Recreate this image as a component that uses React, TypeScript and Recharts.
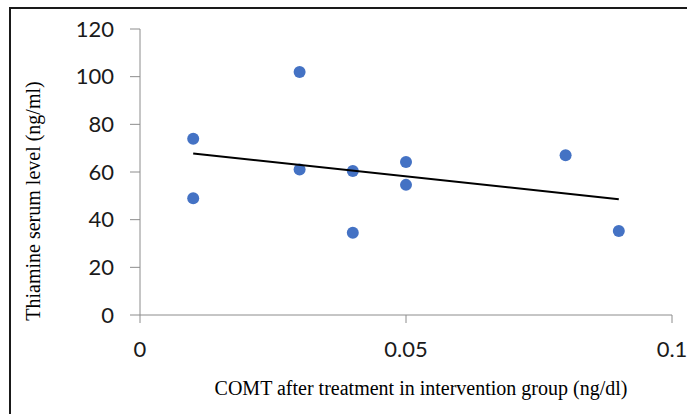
import React from 'react';
import { ScatterChart, Scatter, XAxis, YAxis } from 'recharts';

// 측정값 (COMT, Thiamine)
const comtValues = [0.01, 0.01, 0.03, 0.03, 0.04, 0.04, 0.05, 0.05, 0.08, 0.09];
const thiamineValues = [74, 49, 102, 61, 60.4, 34.5, 64.2, 54.6, 67, 35.2];

// 추세선 양 끝점
const trendX = [0.01, 0.09];
const trendY = [67.8, 48.6];

const xTicks = [0, 0.05, 0.1];
const yTicks = [0, 20, 40, 60, 80, 100, 120];

const points = comtValues.map((x, i) => ({ x, y: thiamineValues[i] }));
const trend = trendX.map((x, i) => ({ x, y: trendY[i] }));

const serif = '"Liberation Serif", "Times New Roman", serif';
const sans = 'Lato, "Open Sans", sans-serif';

const Dot = (props: any) => <circle cx={props.cx} cy={props.cy} r={6} fill="#4472C4" />;
const NoDot = () => <g />;

const YTitle = () => (
  <text
    x={33}
    y={201}
    transform="rotate(-90 33 201)"
    textAnchor="middle"
    dominantBaseline="central"
    fontFamily={serif}
    fontSize={20}
    fill="#000"
  >
    Thiamine serum level (ng/ml)
  </text>
);

const XTitle = () => (
  <text x={421} y={395} textAnchor="middle" fontFamily={serif} fontSize={20} fill="#000">
    COMT after treatment in intervention group (ng/dl)
  </text>
);

export default function App() {
  return (
    <div style={{ position: 'absolute', left: 0, top: 0, width: 687, height: 414, overflow: 'hidden', background: '#fff' }}>
      <div
        style={{
          position: 'absolute',
          left: 9,
          top: 7,
          width: 720,
          height: 440,
          border: '2px solid #1a1a1a',
          boxSizing: 'border-box',
        }}
      />
      <div style={{ position: 'absolute', left: 0, top: 0 }}>
        <ScatterChart width={687} height={414} margin={{ top: 29, right: 15, bottom: 0, left: 0 }}>
          <XAxis
            type="number"
            dataKey="x"
            domain={[0, 0.1]}
            ticks={xTicks}
            height={99}
            tickSize={8}
            tickMargin={18}
            stroke="#8c8c8c"
            tick={{ fill: '#1a1a1a', fontSize: 22, fontFamily: sans }}
            label={<XTitle />}
          />
          <YAxis
            type="number"
            dataKey="y"
            domain={[0, 120]}
            ticks={yTicks}
            width={140}
            tickSize={10}
            tickMargin={16}
            stroke="#8c8c8c"
            tick={{ fill: '#1a1a1a', fontSize: 22, fontFamily: sans }}
            label={<YTitle />}
          />
          <Scatter data={points} shape={Dot} isAnimationActive={false} />
          <Scatter
            data={trend}
            shape={NoDot}
            line={{ stroke: '#000', strokeWidth: 2 }}
            isAnimationActive={false}
          />
        </ScatterChart>
      </div>
    </div>
  );
}
